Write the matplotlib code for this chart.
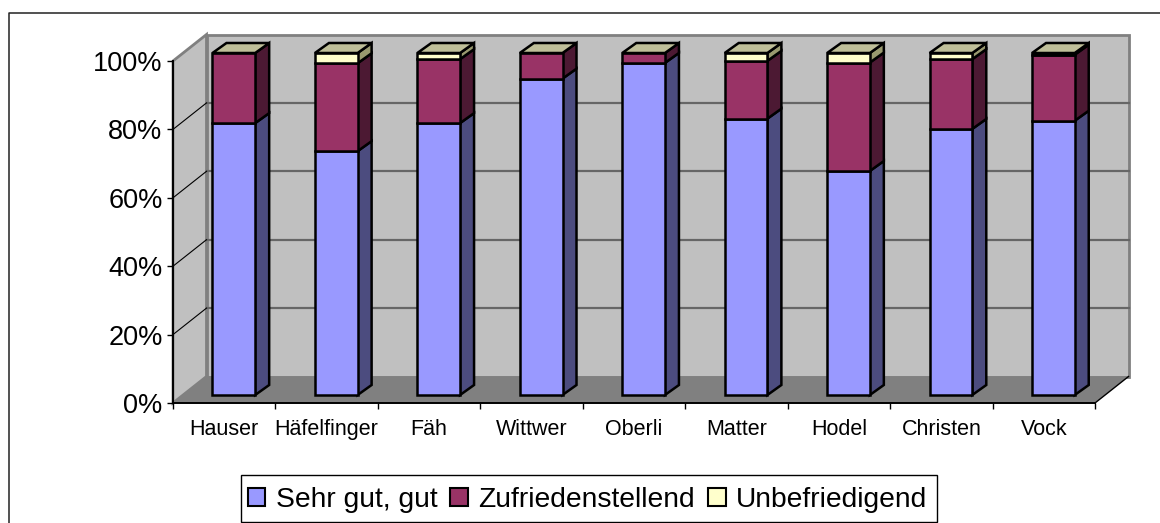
import matplotlib
matplotlib.use("Agg")
import matplotlib.pyplot as plt
from matplotlib.patches import Polygon, Patch, Rectangle
from matplotlib.lines import Line2D

plt.rcParams['font.family'] = ['Liberation Sans', 'DejaVu Sans']

categories = ["Hauser", "Häfelfinger", "Fäh", "Wittwer", "Oberli", "Matter", "Hodel", "Christen", "Vock"]
series_names = ["Sehr gut, gut", "Zufriedenstellend", "Unbefriedigend"]
sehr_gut = [79.5, 71.3, 79.5, 92.5, 97.1, 80.8, 65.5, 77.8, 80.2]
zufrieden = [20.5, 25.7, 18.7, 7.5, 2.9, 16.9, 31.7, 20.4, 19.3]
unbefriedigend = [0.0, 3.0, 1.8, 0.0, 0.0, 2.3, 2.8, 1.8, 0.5]
y_ticks = [0, 20, 40, 60, 80, 100]

front_colors = ["#9999FF", "#993366", "#FFFFCC"]
side_colors = ["#4C4C7F", "#4C1933", "#99996F"]
cap_color = "#BFBF99"

W, H = 1160, 523
X0, X1, Y0, Y1 = 173, 1095, 403, 61   # front plane in pixels

fig = plt.figure(figsize=(W / 100, H / 100), dpi=100, facecolor="white")
ax = fig.add_axes([X0 / W, 1 - Y0 / H, (X1 - X0) / W, (Y0 - Y1) / H])
ax.set_xlim(0, len(categories))
ax.set_ylim(0, 100)
ax.patch.set_visible(False)

px = len(categories) / (X1 - X0)   # data per pixel, x
py = 100 / (Y0 - Y1)               # data per pixel, y

# wall depth
wx, wy = 33.5 * px, 26.5 * py
n = len(categories)
wall = "#C0C0C0"
grey = "#808080"


def poly(points, face, edge="none", lw=0, z=1):
    ax.add_patch(Polygon(points, closed=True, facecolor=face, edgecolor=edge,
                         linewidth=lw, zorder=z, clip_on=False, joinstyle="miter"))


# back wall, side wall, floor
poly([(wx, wy), (n + wx, wy), (n + wx, 100 + wy), (wx, 100 + wy)], wall, grey, 2.0, 1)
poly([(0, 0), (wx, wy), (wx, 100 + wy), (0, 100)], wall, grey, 2.0, 1)
poly([(0, 0), (n, 0), (n + wx, wy), (wx, wy)], grey, z=2)
ax.plot([n, n + wx], [0, wy], color="black", lw=1.0, zorder=3, clip_on=False)

# gridlines on both walls
for t in y_ticks[1:-1]:
    ax.plot([wx, n + wx], [t + wy, t + wy], color="#666666", lw=1.6, zorder=2, clip_on=False)
    ax.plot([0, wx], [t, t + wy], color="black", lw=0.8, zorder=2, clip_on=False)

# 3D stacked bars
bw = 42.7 * px
ox, oy = 9.6 * px, 8 * py      # bars sit inside the floor depth
dx, dy = 14 * px, 10 * py      # bar depth
EDGE = dict(edge="black", lw=1.8)
for i in range(n):
    x0 = i + 0.5 + ox - bw / 2
    x1 = x0 + bw
    base = oy
    for vals, fc, sc in zip((sehr_gut, zufrieden, unbefriedigend), front_colors, side_colors):
        v = vals[i]
        if v <= 0:
            continue
        top = base + v
        poly([(x1, base), (x1 + dx, base + dy), (x1 + dx, top + dy), (x1, top)], sc, z=5, **EDGE)
        poly([(x0, base), (x1, base), (x1, top), (x0, top)], fc, z=6, **EDGE)
        base = top
    poly([(x0, base), (x1, base), (x1 + dx, base + dy), (x0 + dx, base + dy)], cap_color, z=6, **EDGE)

# axes
for s in ("top", "right"):
    ax.spines[s].set_visible(False)
for s in ("left", "bottom"):
    ax.spines[s].set_linewidth(1.4)
    ax.spines[s].set_zorder(4)
ax.set_yticks(y_ticks)
ax.set_yticklabels([f"{t}%" for t in y_ticks], fontsize=19.5)
ax.tick_params(axis="y", length=4.5, width=1, pad=3)
ax.set_xticks(range(n + 1))
ax.set_xticklabels([])
ax.tick_params(axis="x", which="major", length=4.5, width=1)
ax.set_xticks([i + 0.5 for i in range(n)], minor=True)
ax.set_xticklabels(categories, minor=True, fontsize=15.5)
ax.tick_params(axis="x", which="minor", length=0, pad=11.5)

# legend frame (reaches almost to the bottom edge)
fig.add_artist(Rectangle((240.5 / W, 1 - 522 / H), (937 - 240.5) / W, 47 / H,
                         facecolor="white", edgecolor="black", linewidth=1.0,
                         transform=fig.transFigure, zorder=8))
handles = [Patch(facecolor=c, edgecolor="black", linewidth=1.5) for c in front_colors]
leg = fig.legend(handles, series_names, ncol=3, loc="center",
                 bbox_to_anchor=(587.5 / W, 1 - 500 / H), fontsize=20.3,
                 frameon=False, handlelength=0.62, handleheight=0.62, handletextpad=0.37,
                 columnspacing=0.47, borderpad=0.3, borderaxespad=0)
leg.set_zorder(9)

# chart frame (open at right and bottom edge)
fig.add_artist(Line2D([8.5 / W, 8.5 / W, 1], [0, 1 - 13 / H, 1 - 13 / H],
                      color="#222222", lw=1.1, transform=fig.transFigure))

fig.savefig("out.png", dpi=100, facecolor="white")
